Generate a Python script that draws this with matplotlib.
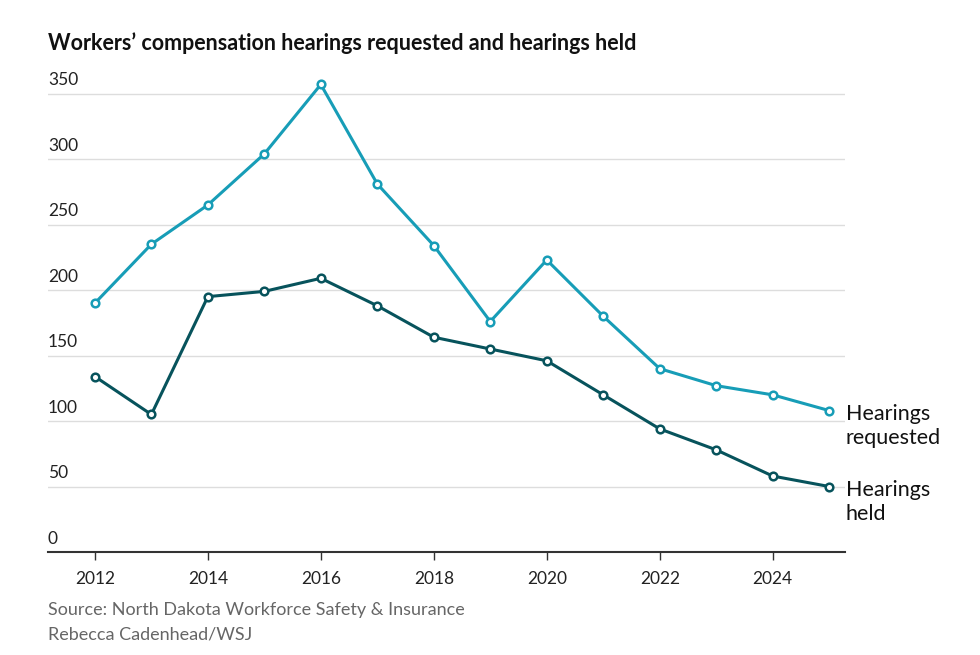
import matplotlib.pyplot as plt
import matplotlib.transforms as mtransforms

plt.rcParams['font.family'] = ['Lato', 'DejaVu Sans']

years = list(range(2012, 2026))
requested = [190, 235, 265, 304, 357, 281, 234, 176, 223, 180, 140, 127, 120, 108]
held = [134, 105, 195, 199, 209, 188, 164, 155, 146, 120, 94, 78, 58, 50]
yticks = [0, 50, 100, 150, 200, 250, 300, 350]
xticks = [2012, 2014, 2016, 2018, 2020, 2022, 2024]

c_req = '#179db7'
c_held = '#07535c'

fig = plt.figure(figsize=(9.8, 6.55), dpi=100)
ax = fig.add_axes([48 / 980, 1 - 552 / 655, (845 - 48) / 980, (552 - 74) / 655])

ax.plot(years, requested, color=c_req, lw=2.2, marker='o', ms=5.5,
        mfc='white', mec=c_req, mew=1.8, zorder=3, clip_on=False)
ax.plot(years, held, color=c_held, lw=2.2, marker='o', ms=5.5,
        mfc='white', mec=c_held, mew=1.8, zorder=3, clip_on=False)

ax.set_xlim(2011.17, 2025.28)
ax.set_ylim(0, 365)

for s in ['top', 'right', 'left']:
    ax.spines[s].set_visible(False)
ax.spines['bottom'].set_color('#333333')
ax.spines['bottom'].set_linewidth(1.5)

ax.set_yticks(yticks)
ax.set_yticklabels([])
ax.tick_params(axis='y', length=0)
ax.grid(axis='y', color='#dddddd', lw=1)
ax.set_axisbelow(True)

trans = mtransforms.blended_transform_factory(ax.transAxes, ax.transData)
for v in yticks:
    ax.text(0, v + 4, str(v), transform=trans, ha='left', va='bottom',
            fontsize=12.5, color='#222222')

ax.set_xticks(xticks)
ax.set_xticklabels([str(x) for x in xticks])
ax.tick_params(axis='x', length=6, width=1, color='#333333', labelsize=12.5,
               labelcolor='#222222', pad=8)

ax.annotate('Hearings\nrequested', xy=(years[-1], requested[-1]), xytext=(12, 5),
            textcoords='offset points', ha='left', va='top', fontsize=15.5,
            color='#111111', linespacing=1.3, annotation_clip=False)
ax.annotate('Hearings\nheld', xy=(years[-1], held[-1]), xytext=(12, 5),
            textcoords='offset points', ha='left', va='top', fontsize=15.5,
            color='#111111', linespacing=1.3, annotation_clip=False)

fig.text(48 / 980, 1 - 43 / 655, 'Workers\u2019 compensation hearings requested and hearings held',
         fontsize=15.5, fontweight='bold', color='#111111', va='center')
fig.text(48 / 980, 1 - 610 / 655, 'Source: North Dakota Workforce Safety & Insurance',
         fontsize=13, color='#666666', va='center')
fig.text(48 / 980, 1 - 634 / 655, 'Rebecca Cadenhead/WSJ',
         fontsize=13, color='#666666', va='center')

fig.savefig('out.png', dpi=100)
